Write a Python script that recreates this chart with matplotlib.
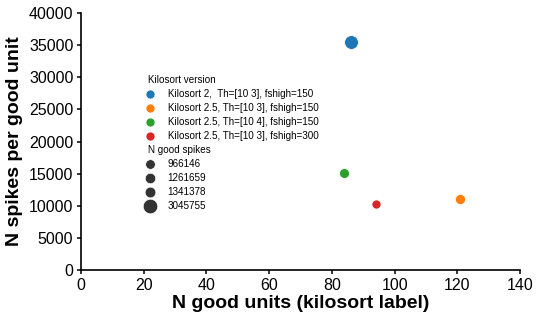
import matplotlib
matplotlib.use("Agg")
import matplotlib.pyplot as plt
from matplotlib.lines import Line2D
import numpy as np

plt.rcParams['font.family'] = ['Liberation Sans', 'DejaVu Sans']

versions = ["Kilosort 2,  Th=[10 3], fshigh=150",
            "Kilosort 2.5, Th=[10 3], fshigh=150",
            "Kilosort 2.5, Th=[10 4], fshigh=150",
            "Kilosort 2.5, Th=[10 3], fshigh=300"]
n_units = [86, 121, 84, 94]
n_spikes = [3045755, 1341378, 1261659, 966146]
colors = ["#1f77b4", "#ff7f0e", "#2ca02c", "#d62728"]
x_ticks = [0, 20, 40, 60, 80, 100, 120, 140]
y_ticks = [0, 5000, 10000, 15000, 20000, 25000, 30000, 35000, 40000]

spikes_per_unit = [s / u for s, u in zip(n_spikes, n_units)]

smin, smax = 44, 100
vmin, vmax = min(n_spikes), max(n_spikes)
def size_of(v):
    return smin + (v - vmin) / (vmax - vmin) * (smax - smin)

fig = plt.figure(figsize=(5.41, 3.23), dpi=100)
ax = fig.add_axes([81/541, 1-270/323, (520-81)/541, (270-13)/323])

for x, y, c, s in zip(n_units, spikes_per_unit, colors, n_spikes):
    ax.scatter(x, y, s=size_of(s), color=c, edgecolor='white', linewidth=0.6, zorder=3)

ax.set_xlim(0, 140)
ax.set_ylim(0, 40000)
ax.set_xticks(x_ticks)
ax.set_yticks(y_ticks)
ax.tick_params(labelsize=11.5, direction='out', length=3, width=1.1, pad=2.5)
for sp in ['top', 'right']:
    ax.spines[sp].set_visible(False)
for sp in ['left', 'bottom']:
    ax.spines[sp].set_linewidth(1.2)
ax.set_xlabel("N good units (kilosort label)", fontsize=14, fontweight='bold', labelpad=2)
ax.set_ylabel("N spikes per good unit", fontsize=14, fontweight='bold', labelpad=4)

handles = [Line2D([], [], linestyle='none', marker='')]
labels = ["Kilosort version"]
for v, c in zip(versions, colors):
    handles.append(Line2D([], [], linestyle='none', marker='o', markersize=6.5, color=c,
                          markeredgecolor='white', markeredgewidth=0.5))
    labels.append(v)
handles.append(Line2D([], [], linestyle='none', marker=''))
labels.append("N good spikes")
for v in sorted(n_spikes):
    handles.append(Line2D([], [], linestyle='none', marker='o', markersize=np.sqrt(size_of(v)) * 1.05,
                          color='#333333', markeredgecolor='white', markeredgewidth=0.5))
    labels.append(str(v))

leg = ax.legend(handles, labels, loc='upper left', bbox_to_anchor=((136-81)/439, (270-71)/257),
                frameon=False, fontsize=7.1, labelspacing=0.41, borderaxespad=0,
                handletextpad=0.8)
header_idx = [0, 5]
for vpack in leg._legend_handle_box.get_children():
    for i, hpack in enumerate(vpack.get_children()):
        if i in header_idx:
            da = hpack.get_children()[0]
            da.set_width(0)

fig.savefig("out.png", dpi=100)
